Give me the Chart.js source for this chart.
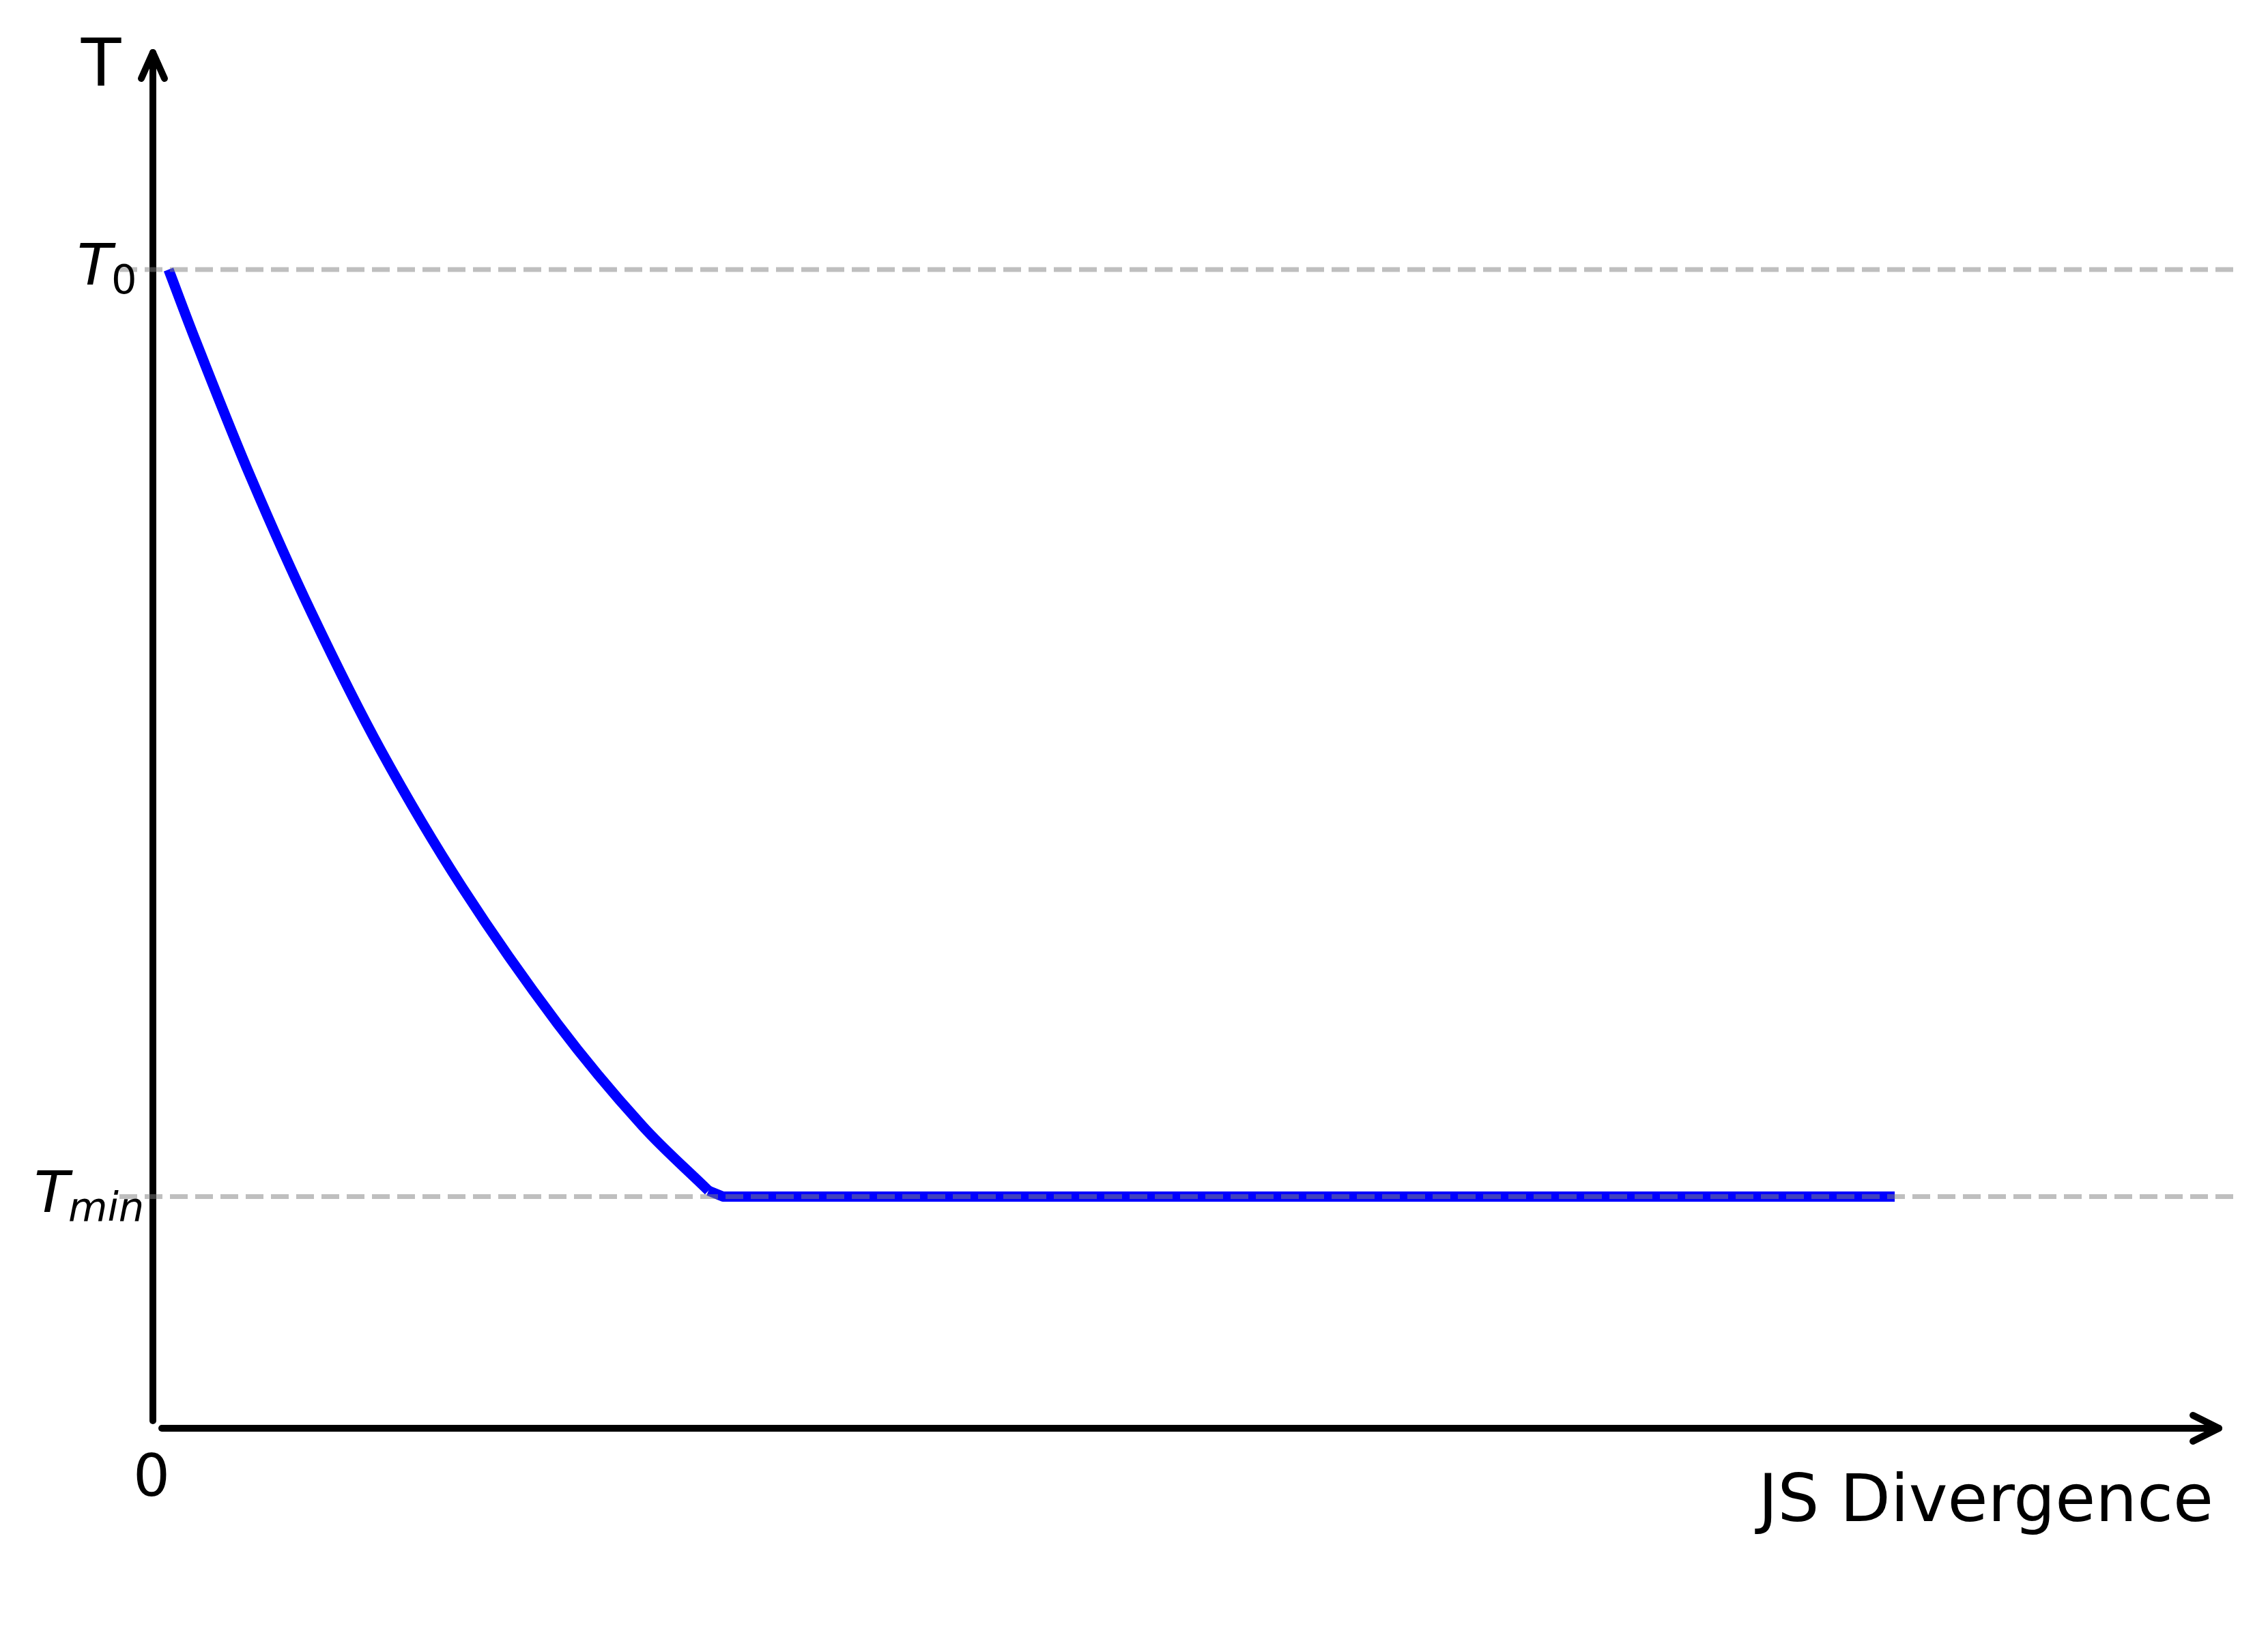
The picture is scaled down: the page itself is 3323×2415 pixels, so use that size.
<!DOCTYPE html>
<html>
<head>
<meta charset="utf-8">
<script src="https://cdn.jsdelivr.net/npm/chart.js@4.4.0/dist/chart.umd.min.js"></script>
<style>
  html, body { margin: 0; padding: 0; background: #fff; }
  canvas { display: block; }
</style>
</head>
<body>
<canvas id="tempChart" width="3323" height="2415"></canvas>
<script>
// JS divergence (x) vs temperature (y)
// decaying part (smooth) ...
const jsDiv = [0.009, 0.0247, 0.0564, 0.0913, 0.1309, 0.1775, 0.2324, 0.2810, 0.319];
const temp = [1.0, 0.938, 0.82, 0.703, 0.585, 0.467, 0.349, 0.261, 0.205];
// ... then clipped at Tmin (straight)
const jsDivFlat = [0.319, 0.3272, 1.0];
const tempFlat = [0.205, 0.2, 0.2];

const T0 = 1.0;
const Tmin = 0.2;
const refLineX = [-0.0192, 1.1947]; // dashed guides run past both ends

const xMax = 1.1861;
const yMax = 1.1873;

const toPoints = (xs, ys) => xs.map((x, i) => ({ x: x, y: ys[i] }));

function refLine(v) {
  return refLineX.map(x => ({ x: x, y: v }));
}

// arrow axes + the text labels (no ticks in this figure)
const axesPlugin = {
  id: "arrowAxes",
  beforeDatasetsDraw(chart) {
    const ctx = chart.ctx;
    const xs = chart.scales.x, ys = chart.scales.y;
    const x0 = xs.getPixelForValue(0), y0 = ys.getPixelForValue(0);
    const top = ys.getPixelForValue(yMax), right = xs.getPixelForValue(xMax);
    ctx.save();
    ctx.strokeStyle = "#000";
    ctx.lineWidth = 10;
    ctx.lineCap = "round";
    ctx.lineJoin = "round";
    // y axis
    ctx.beginPath(); ctx.moveTo(x0, y0 - 11); ctx.lineTo(x0, top); ctx.stroke();
    ctx.beginPath(); ctx.moveTo(x0 - 17, top + 38); ctx.lineTo(x0, top); ctx.lineTo(x0 + 17, top + 38); ctx.stroke();
    // x axis
    ctx.beginPath(); ctx.moveTo(x0 + 13, y0); ctx.lineTo(right, y0); ctx.stroke();
    ctx.beginPath(); ctx.moveTo(right - 38, y0 - 19); ctx.lineTo(right, y0); ctx.lineTo(right - 38, y0 + 19); ctx.stroke();
    ctx.restore();
  },
  afterDraw(chart) {
    const ctx = chart.ctx;
    const xs = chart.scales.x, ys = chart.scales.y;
    const x0 = xs.getPixelForValue(0), y0 = ys.getPixelForValue(0);
    const top = ys.getPixelForValue(yMax), right = xs.getPixelForValue(xMax);
    const yT0 = ys.getPixelForValue(T0), yTmin = ys.getPixelForValue(Tmin);
    ctx.save();
    ctx.fillStyle = "#000";
    ctx.textBaseline = "alphabetic";

    ctx.textAlign = "center";
    ctx.font = "96px 'DejaVu Sans'";
    ctx.fillText("T", x0 - 76, top + 48);

    ctx.font = "85px 'DejaVu Sans'";
    ctx.fillText("0", x0 - 2, y0 + 99);

    ctx.textAlign = "right";
    ctx.font = "96px 'DejaVu Sans'";
    ctx.fillText("JS Divergence", right - 8, y0 + 136);

    // T_0
    ctx.textAlign = "left";
    ctx.font = "italic 84px 'DejaVu Sans'";
    ctx.fillText("T", x0 - 111, yT0 + 22);
    ctx.font = "59px 'DejaVu Sans'";
    ctx.fillText("0", x0 - 61, yT0 + 35);

    // T_min
    ctx.font = "italic 84px 'DejaVu Sans'";
    ctx.fillText("T", x0 - 174, yTmin + 23);
    ctx.font = "italic 59px 'DejaVu Sans'";
    ctx.fillText("min", x0 - 124, yTmin + 36);
    ctx.restore();
  }
};

const guideStyle = {
  borderColor: "rgba(128,128,128,0.5)",
  borderWidth: 7,
  borderDash: [26, 11],
  borderCapStyle: "butt",
  pointRadius: 0,
  clip: false,
  order: 0,
};

const curveStyle = {
  borderColor: "#0000ff",
  borderWidth: 15,
  borderJoinStyle: "round",
  pointRadius: 0,
  order: 1,
};

var ctx = document.getElementById("tempChart").getContext("2d");
var tempChart = new Chart(ctx, {
  type: "line",
  data: {
    datasets: [
      Object.assign({ data: refLine(T0) }, guideStyle),
      Object.assign({ data: refLine(Tmin) }, guideStyle),
      Object.assign({ data: toPoints(jsDiv, temp), tension: 0.35 }, curveStyle),
      Object.assign({ data: toPoints(jsDivFlat, tempFlat), tension: 0 }, curveStyle),
    ],
  },
  options: {
    responsive: false,
    animation: false,
    devicePixelRatio: 1,
    layout: { padding: { left: 224, right: 72, top: 77, bottom: 322 } },
    plugins: {
      legend: { display: false },
      tooltip: { enabled: false },
    },
    scales: {
      x: { type: "linear", min: 0, max: xMax, display: false },
      y: { type: "linear", min: 0, max: yMax, display: false },
    },
  },
  plugins: [axesPlugin],
});
</script>
</body>
</html>
